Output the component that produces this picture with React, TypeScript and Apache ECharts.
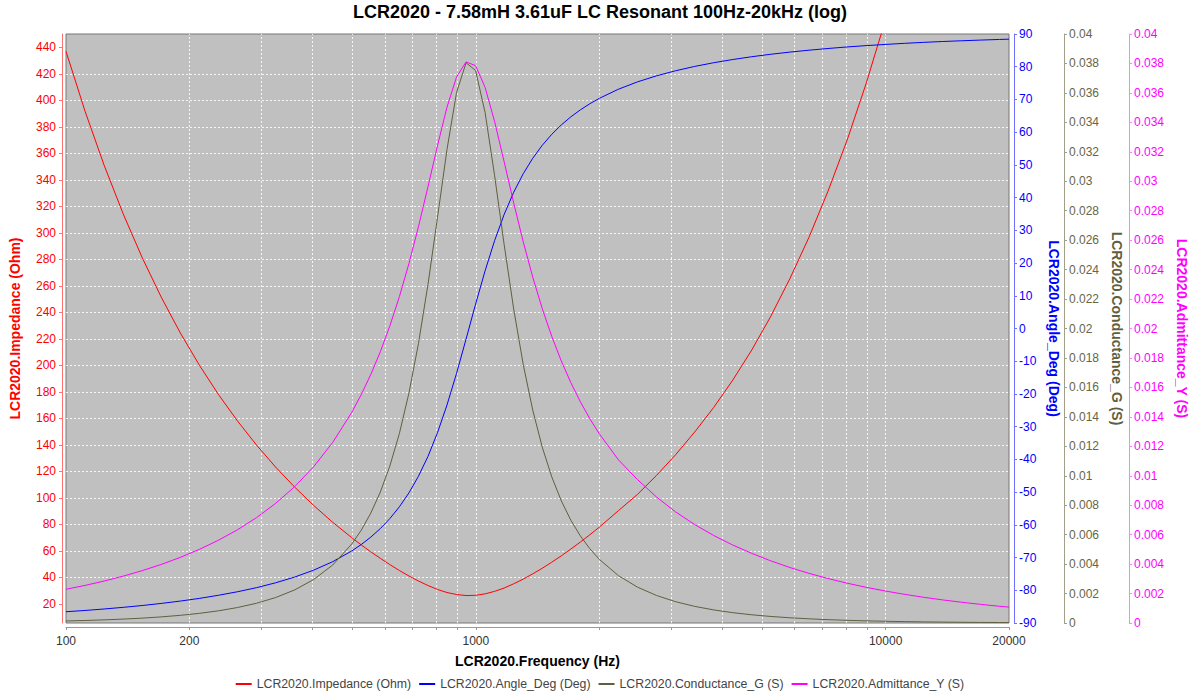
import React, { useEffect, useRef } from "react";
import * as echarts from "echarts";

const TITLE = "LCR2020 - 7.58mH 3.61uF LC Resonant 100Hz-20kHz (log)";
const X_NAME = "LCR2020.Frequency (Hz)";
const NAMES = [
  "LCR2020.Impedance (Ohm)",
  "LCR2020.Angle_Deg (Deg)",
  "LCR2020.Conductance_G (S)",
  "LCR2020.Admittance_Y (S)",
];
const COLORS = ["#ff0000", "#0000ff", "#5f5f3f", "#ff00ff"];

// x-axis ticks / labels / vertical grid
const xLabelValues = [100, 200, 1000, 10000, 20000];
const xTickValues = [
  100, 200, 300, 400, 500, 600, 700, 800, 900, 1000, 2000, 3000, 4000, 5000,
  6000, 7000, 8000, 9000, 10000, 20000,
];
const xGridValues = [
  200, 300, 400, 500, 600, 700, 800, 900, 1000, 2000, 3000, 4000, 5000, 6000,
  7000, 8000, 9000, 10000,
];
const impedanceTicks = [
  20, 40, 60, 80, 100, 120, 140, 160, 180, 200, 220, 240, 260, 280, 300, 320,
  340, 360, 380, 400, 420, 440,
];

// measured data (frequency in Hz)
const frequency = [
  100, 111.3, 123.87, 137.87, 153.44, 170.78, 190.07, 211.54, 235.44, 262.04,
  291.64, 324.59, 361.26, 402.08, 447.5, 498.06, 525.44, 554.33, 584.8, 616.95,
  650.87, 686.65, 724.4, 764.23, 806.24, 850.57, 897.33, 946.66, 998.7, 1053.61,
  1111.53, 1172.64, 1237.11, 1305.12, 1376.87, 1452.56, 1532.42, 1616.67,
  1705.54, 1799.31, 1898.23, 2002.59, 2228.82, 2480.63, 2760.88, 3072.79,
  3419.94, 3806.3, 4236.3, 4714.9, 5247.6, 5840.4, 6500.3, 7234.6, 8052.0,
  8961.6, 9974.1, 11100.9, 12355, 13750.8, 15304.3, 17033, 18957.6, 20000,
];
const impedance = [
  436.9, 391.7, 351.0, 314.3, 281.2, 251.4, 224.4, 200.1, 178.0, 158.0, 139.8,
  123.2, 108.1, 94.2, 81.5, 69.9, 64.4, 59.2, 54.3, 49.6, 45.1, 41.0, 37.2,
  33.8, 30.8, 28.5, 27.0, 26.2, 26.4, 27.5, 29.4, 31.9, 35.1, 38.6, 42.6, 46.8,
  51.4, 56.2, 61.3, 66.6, 72.1, 77.9, 90.3, 102.6, 116.9, 132.5, 149.6, 168.2,
  188.8, 211.6, 237.1, 265.4, 296.6, 331.4, 369.8, 412.6, 460.0, 512.8, 571.4,
  636.5, 709.1, 789.7, 879.3, 927.9,
];
const angleDeg = [
  -86.56, -86.17, -85.72, -85.22, -84.66, -84.02, -83.3, -82.48, -81.53,
  -80.45, -79.2, -77.72, -75.97, -73.85, -71.26, -67.98, -66.01, -63.75,
  -61.14, -58.09, -54.5, -50.24, -45.17, -39.1, -31.86, -23.37, -13.72, -3.25,
  7.44, 17.65, 26.87, 34.87, 41.63, 47.29, 52.02, 55.99, 59.35, 62.22, 64.68,
  66.82, 68.7, 70.35, 73.13, 75.37, 77.22, 78.77, 80.09, 81.22, 82.2, 83.06,
  83.81, 84.47, 85.05, 85.57, 86.04, 86.45, 86.81, 87.14, 87.44, 87.7, 87.93,
  88.14, 88.33, 88.42,
];
const conductance = [
  0.000137, 0.000171, 0.000213, 0.000265, 0.000331, 0.000415, 0.00052,
  0.000655, 0.000827, 0.00105, 0.001341, 0.001727, 0.002244, 0.002952,
  0.003941, 0.005363, 0.006308, 0.007466, 0.008893, 0.010664, 0.012868,
  0.015605, 0.018968, 0.022988, 0.027532, 0.032161, 0.036022, 0.038045,
  0.037528, 0.034659, 0.030371, 0.025697, 0.021326, 0.017563, 0.014456,
  0.011941, 0.009919, 0.008293, 0.00698, 0.005913, 0.005039, 0.004317,
  0.003216, 0.002435, 0.001867, 0.001447, 0.00113, 0.000889, 0.000702,
  0.000557, 0.000444, 0.000354, 0.000284, 0.000227, 0.000182, 0.000147,
  0.000118, 0.0000949, 0.0000764, 0.0000616, 0.0000496, 0.00004, 0.0000323,
  0.000029,
];
const admittance = [
  0.002289, 0.002553, 0.002849, 0.003182, 0.003556, 0.003978, 0.004456,
  0.004999, 0.005619, 0.006331, 0.007155, 0.008118, 0.009254, 0.010614,
  0.012265, 0.014307, 0.015517, 0.016881, 0.018423, 0.020175, 0.022162,
  0.024405, 0.026906, 0.029621, 0.032417, 0.035036, 0.03708, 0.038107,
  0.037847, 0.036372, 0.034047, 0.031318, 0.02853, 0.025891, 0.023489,
  0.021348, 0.019457, 0.017791, 0.016323, 0.015022, 0.013868, 0.012837,
  0.011079, 0.009737, 0.008553, 0.007544, 0.006688, 0.005943, 0.005294,
  0.004726, 0.004217, 0.003768, 0.003371, 0.003018, 0.002704, 0.002424,
  0.002174, 0.00195, 0.00175, 0.001571, 0.001411, 0.001266, 0.001137,
  0.001078,
];

const FONT = "Liberation Sans";

function pairs(values: number[]) {
  return frequency.map((f, i) => [f, values[i]]);
}

export default function App() {
  const ref = useRef<HTMLDivElement>(null);

  useEffect(() => {
    if (!ref.current) return;
    const chart = echarts.init(ref.current, undefined, { renderer: "svg" });

    const gridLine = { color: "rgba(255,255,255,0.85)", width: 1, type: [2, 2] as any };

    const rightAxis = (
      idx: number,
      name: string,
      min: number,
      max: number,
      interval: number,
      offset: number,
      gap: number,
      lineColor: string,
      labelColor: string
    ) => ({
      type: "value",
      position: "right",
      offset,
      min,
      max,
      interval,
      name,
      nameLocation: "middle",
      nameGap: gap,
      nameRotate: -90,
      nameTextStyle: { color: COLORS[idx], fontWeight: "bold", fontSize: 14, fontFamily: FONT },
      axisLine: { show: true, onZero: false, lineStyle: { color: lineColor, width: 1 } },
      axisTick: { show: true, length: 3, lineStyle: { color: lineColor } },
      axisLabel: { margin: 5, fontSize: 12, color: labelColor, fontFamily: FONT },
      splitLine: { show: false },
    });

    const option: any = {
      animation: false,
      backgroundColor: "#ffffff",
      textStyle: { fontFamily: FONT },
      title: {
        text: TITLE,
        left: "center",
        top: 3,
        padding: 0,
        textStyle: { fontSize: 18, fontWeight: "bold", color: "#000", fontFamily: FONT },
      },
      legend: {
        data: NAMES,
        left: "center",
        bottom: 5,
        icon: "rect",
        itemWidth: 16,
        itemHeight: 2,
        itemGap: 8,
        textStyle: { fontSize: 12.3, color: "#444", fontFamily: FONT },
      },
      grid: {
        left: 66,
        right: 191,
        top: 34,
        bottom: 77,
        show: true,
        backgroundColor: "#c0c0c0",
        borderColor: "#777777",
        borderWidth: 1,
      },
      xAxis: {
        type: "log",
        logBase: 10,
        min: 100,
        max: 20000,
        offset: 4,
        name: X_NAME,
        nameLocation: "middle",
        nameGap: 27,
        nameTextStyle: { fontWeight: "bold", fontSize: 14, color: "#000", fontFamily: FONT },
        axisLine: { show: true, onZero: false, lineStyle: { color: "#999999" } },
        axisTick: { show: true, length: 3, customValues: xTickValues, lineStyle: { color: "#999999" } },
        axisLabel: {
          customValues: xLabelValues,
          margin: 8,
          fontSize: 12,
          color: "#333",
          fontFamily: FONT,
          formatter: (v: number) => String(Math.round(v)),
        },
        splitLine: { show: false },
        minorSplitLine: { show: false },
      },
      yAxis: [
        {
          type: "value",
          position: "left",
          offset: 4,
          min: 5.5,
          max: 450,
          splitNumber: 22,
          minInterval: 20,
          maxInterval: 20,
          name: NAMES[0],
          nameLocation: "middle",
          nameGap: 40,
          nameTextStyle: { color: COLORS[0], fontWeight: "bold", fontSize: 14, fontFamily: FONT },
          axisLine: { show: true, onZero: false, lineStyle: { color: "#ff7070" } },
          axisTick: { show: true, length: 3, customValues: impedanceTicks, lineStyle: { color: "#ff7070" } },
          axisLabel: { customValues: impedanceTicks, margin: 6, fontSize: 12, color: "#ff0000", fontFamily: FONT },
          splitLine: { show: true, showMinLine: false, showMaxLine: false, lineStyle: gridLine },
        },
        rightAxis(1, NAMES[1], -90, 90, 10, 5, 29, "#7070ff", "#0000ff"),
        rightAxis(2, NAMES[2], 0, 0.04, 0.002, 55, 43, "#a0a088", "#666644"),
        rightAxis(3, NAMES[3], 0, 0.04, 0.002, 120, 44, "#ff80ff", "#ff00ff"),
      ],
      series: [
        {
          name: "grid",
          type: "line",
          data: [],
          z: 1,
          silent: true,
          markLine: {
            z: 1,
            silent: true,
            symbol: ["none", "none"],
            label: { show: false },
            emphasis: { disabled: true },
            lineStyle: gridLine,
            data: xGridValues.map((v) => ({ xAxis: v })),
          },
        },
        ...[impedance, angleDeg, conductance, admittance].map((vals, i) => ({
          name: NAMES[i],
          type: "line",
          yAxisIndex: i,
          data: pairs(vals),
          showSymbol: false,
          symbol: "none",
          z: 3,
          clip: true,
          color: COLORS[i],
          lineStyle: { color: COLORS[i], width: 1 },
          emphasis: { disabled: true },
        })),
      ],
    };

    chart.setOption(option);
    return () => chart.dispose();
  }, []);

  return (
    <div
      ref={ref}
      style={{ position: "absolute", left: 0, top: 0, width: 1200, height: 700 }}
    />
  );
}
